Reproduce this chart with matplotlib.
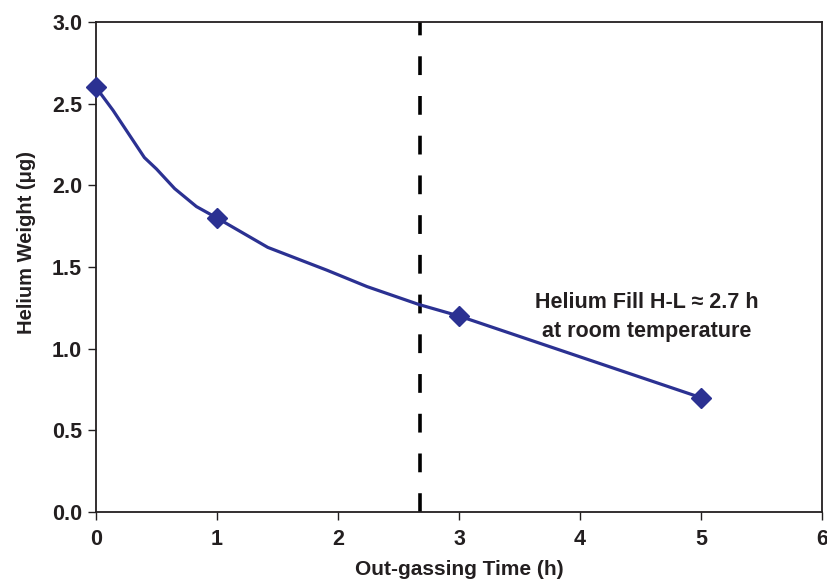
import matplotlib
matplotlib.use("Agg")
import matplotlib.pyplot as plt
from matplotlib.font_manager import fontManager

# Out-gassing curve of helium weight vs. time
curve_x = [0.0, 0.14, 0.40, 0.50, 0.65, 0.83, 1.0, 1.42, 1.91, 2.24, 2.67, 3.0, 5.0]
curve_y = [2.60, 2.46, 2.17, 2.10, 1.98, 1.87, 1.80, 1.62, 1.48, 1.38, 1.27, 1.20, 0.70]

# Measured points
meas_x = [0, 1, 3, 5]
meas_y = [2.6, 1.8, 1.2, 0.7]

half_life = 2.68

x_ticks = [0, 1, 2, 3, 4, 5, 6]
y_ticks = [0.0, 0.5, 1.0, 1.5, 2.0, 2.5, 3.0]

names = {f.name for f in fontManager.ttflist}
family = ["Liberation Sans Narrow", "Liberation Sans"]
family = [f for f in family if f in names] + ["DejaVu Sans"]
plt.rcParams["font.family"] = family
plt.rcParams["font.weight"] = "bold"

ink = "#231F20"
navy = "#2B3192"

fig = plt.figure(figsize=(8.28, 5.87), dpi=100)
ax = fig.add_axes([96 / 828, 75 / 587, 726 / 828, 490 / 587])

ax.plot(curve_x, curve_y, color=navy, lw=2.3, zorder=3)
ax.plot(meas_x, meas_y, ls="none", marker="D", ms=10.5, color=navy, zorder=4, clip_on=False)

ax.axvline(half_life, color="black", lw=2.6, ls=(0, (5.2, 5.8)), zorder=2)

ax.text(4.55, 1.195, "Helium Fill H-L \u2248 2.7 h\nat room temperature",
        fontsize=15.5, fontweight="bold", ha="center", va="center", linespacing=1.5,
        color=ink)

ax.set_xlim(0, 6)
ax.set_ylim(0, 3)
ax.set_xticks(x_ticks)
ax.set_yticks(y_ticks)
ax.set_xticklabels([str(v) for v in x_ticks])
ax.set_yticklabels([f"{v:.1f}" for v in y_ticks])
ax.tick_params(axis="both", direction="out", length=6, width=1, labelsize=15.5,
               colors=ink)
ax.tick_params(axis="x", pad=6)
ax.tick_params(axis="y", pad=4)
for s in ax.spines.values():
    s.set_linewidth(1.3)
    s.set_color(ink)

ax.set_xlabel("Out-gassing Time (h)", fontsize=15, fontweight="bold", color=ink)
ax.set_ylabel("Helium Weight (\u03bcg)", fontsize=14.5, fontweight="bold", color=ink)
ax.xaxis.set_label_coords(0.5, -(560 - 512) / 490)
ax.yaxis.set_label_coords((36 - 96) / 726, (512 - 242) / 490)

fig.savefig("out.png", dpi=100)
